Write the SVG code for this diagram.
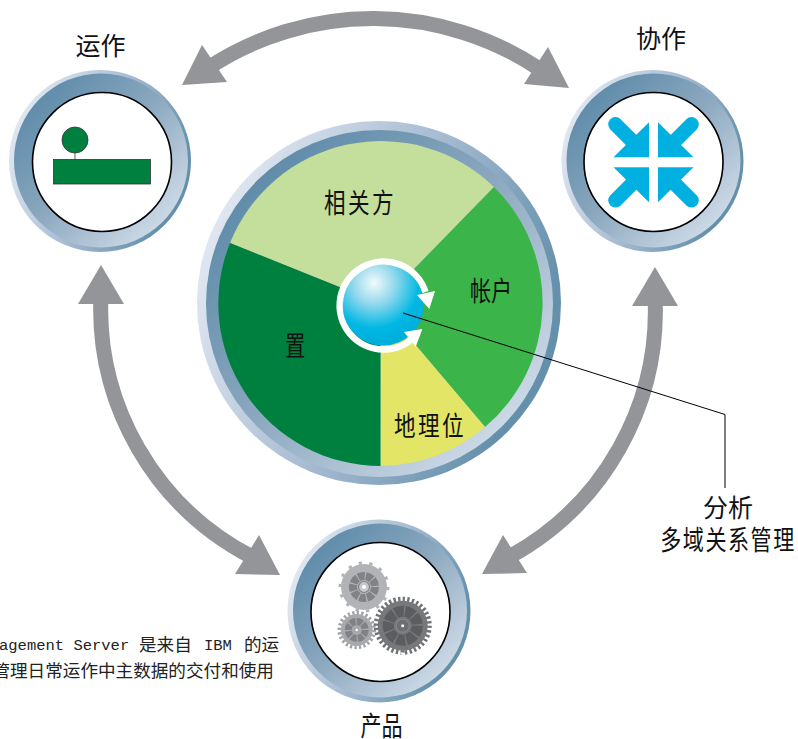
<svg xmlns="http://www.w3.org/2000/svg" xmlns:xlink="http://www.w3.org/1999/xlink" width="798" height="739" viewBox="0 0 798 739">
<style>
.lbl{font-family:"Noto Sans CJK SC","Liberation Sans",sans-serif;font-size:25px;fill:#111;text-anchor:middle}
.nar{font-size:27px}
.ln{font-family:"Noto Sans CJK SC","Liberation Mono",monospace;font-size:17.6px;fill:#222}
.mono{font-family:"Liberation Mono",monospace;font-size:15.5px;fill:#222}
.band{fill:none;stroke:#939598;stroke-width:15}
.head{fill:#939598}
.hole{fill:#fff;stroke:#000;stroke-width:1.6}
.green{fill:#00803e;stroke:#333;stroke-width:.8}
.teeth{fill:none}
</style>
<defs>
<linearGradient id="rimA" x1="0" y1="0.3" x2="1" y2="0.7"><stop offset="0" stop-color="#e4eaf3"/><stop offset="0.5" stop-color="#a5bad1"/><stop offset="0.9" stop-color="#6590ab"/><stop offset="1" stop-color="#6590ab"/></linearGradient>
<linearGradient id="rimB" x1="0.15" y1="0.15" x2="0.88" y2="0.88"><stop offset="0" stop-color="#618dab"/><stop offset="0.45" stop-color="#8aa7be"/><stop offset="1" stop-color="#d0dce9"/></linearGradient>
<radialGradient id="ball" gradientUnits="userSpaceOnUse" cx="374" cy="283" r="60"><stop offset="0" stop-color="#f2fafd"/><stop offset="0.35" stop-color="#93d8ec"/><stop offset="0.75" stop-color="#00b8e4"/><stop offset="1" stop-color="#00aedb"/></radialGradient>
<g id="squeeze"><path d="M-4.500-40V-5H-40Z" fill="#00b0e0"/><path d="M-38-38L-16-16" stroke="#00b0e0" stroke-width="14.500" stroke-linecap="round"/></g>
</defs>

<g id="connectors">
<g id="link-top"><path class="band" d="M208 68A300 300 0 0 1 541 70"/><path class="head" d="M182 85L202 45L227 82Z"/><path class="head" d="M569 88L548 47L524 84Z"/></g>
<g id="link-left"><path class="band" d="M101 295A280 280 0 0 0 252 557"/><path class="head" d="M101 265L78 304L124 304Z"/><path class="head" d="M280 575L235 574L259 535Z"/></g>
<g id="link-right"><path class="band" d="M655 297A280 280 0 0 1 509 557"/><path class="head" d="M655 267L632 306L678 306Z"/><path class="head" d="M482 574L527 573L503 535Z"/></g>
</g>

<g id="node-ops">
<circle cx="100" cy="161" r="91" fill="url(#rimA)"/><circle cx="101" cy="160.500" r="87" fill="url(#rimB)"/><circle class="hole" cx="102" cy="162" r="69.500"/>
<line x1="75" y1="152" x2="75" y2="160" stroke="#777" stroke-width="1.200"/><circle class="green" cx="75" cy="140" r="13"/><rect class="green" x="53.500" y="159.500" width="97" height="24.500"/>
<text class="lbl" x="100.500" y="54.500">运作</text>
</g>

<g id="node-collab">
<circle cx="652.500" cy="161" r="91" fill="url(#rimA)"/><circle cx="653.500" cy="160.500" r="87" fill="url(#rimB)"/><circle class="hole" cx="653.500" cy="162" r="69.500"/>
<g transform="translate(653.500 162.300)"><use xlink:href="#squeeze"/><use xlink:href="#squeeze" transform="scale(-1 1)"/><use xlink:href="#squeeze" transform="scale(1 -1)"/><use xlink:href="#squeeze" transform="scale(-1 -1)"/></g>
<text class="lbl" x="661" y="47.500">协作</text>
</g>

<g id="node-product">
<circle cx="379" cy="611" r="91.500" fill="url(#rimA)"/><circle cx="380" cy="610.500" r="87" fill="url(#rimB)"/><circle class="hole" cx="380.500" cy="612" r="69.500"/>
<g id="gear-a">
<circle cx="364" cy="587" r="23" fill="#b1b3b6"/>
<circle cx="364" cy="587" r="24" class="teeth" stroke="#b1b3b6" stroke-width="3" pathLength="14" stroke-dasharray=".3 .7"/>
<circle cx="364" cy="587" r="11" fill="none" stroke="#808285" stroke-width="8" pathLength="9" stroke-dasharray=".85 .15"/>
<circle cx="364" cy="587" r="5.500" fill="#c7c8ca" stroke="#808285" stroke-width="1.200"/><circle cx="364" cy="587" r="2" fill="#fff"/>
</g>
<g id="gear-b">
<circle cx="356.700" cy="630" r="16" fill="#a7a9ac"/>
<circle cx="356.700" cy="630" r="17.500" class="teeth" stroke="#a0a2a5" stroke-width="3.500" pathLength="24" stroke-dasharray=".5 .5"/>
<circle cx="356.700" cy="630" r="8.500" fill="none" stroke="#808285" stroke-width="7" pathLength="8" stroke-dasharray=".82 .18"/>
<circle cx="356.700" cy="630" r="1.200" fill="#fff"/>
</g>
<g id="gear-c">
<circle cx="402.700" cy="625.700" r="25" fill="#77787b"/>
<circle cx="402.700" cy="625.700" r="26.800" class="teeth" stroke="#707174" stroke-width="4.500" pathLength="36" stroke-dasharray=".5 .5"/>
<circle cx="402.700" cy="625.700" r="14.500" fill="none" stroke="#5c5d5f" stroke-width="11" pathLength="9" stroke-dasharray=".86 .14"/>
<circle cx="402.700" cy="625.700" r="6.500" fill="#6d6e71" stroke="#8a8c8e" stroke-width="1"/><circle cx="402.700" cy="625.700" r="1.500" fill="#fff"/>
</g>
<text class="lbl nar" transform="translate(381.500 735.500) scale(.78 1)">产品</text>
</g>

<g id="node-core">
<circle cx="379" cy="303" r="182" fill="url(#rimA)"/><circle cx="379.500" cy="303.500" r="173.500" fill="url(#rimB)"/>
<path d="M380.500 303.500L230 243A162.500 162.500 0 0 1 494 187Z" fill="#c4de9b"/>
<path d="M380.500 303.500L494 187A162.500 162.500 0 0 1 485 427Z" fill="#3bb54a"/>
<path d="M380.500 303.500L485 427A162.500 162.500 0 0 1 380.500 466Z" fill="#e2e566"/>
<path d="M380.500 303.500L380.500 466A162.500 162.500 0 0 1 230 243Z" fill="#00803e"/>
<text class="lbl nar" transform="translate(360 213) scale(.8 1)" letter-spacing="3">相关方</text>
<text class="lbl nar" transform="translate(491 301) scale(.78 1)">帐户</text>
<text class="lbl nar" transform="translate(430 435.500) scale(.8 1)" letter-spacing="3">地理位</text>
<text class="lbl nar" transform="translate(295 356) scale(.75 1)">置</text>
<circle cx="383" cy="304.500" r="41" fill="url(#ball)"/>
<path d="M418 333A44 44 0 1 1 425.500 292" fill="none" stroke="#fff" stroke-width="6.500"/>
<path d="M435 291L417 295L429.300 309Z" fill="#fff"/><path d="M422.300 329L404 332L415.700 346.700Z" fill="#fff"/>
</g>

<g id="callout">
<path d="M403 313L725 414.500V488" fill="none" stroke="#000" stroke-width="1"/>
<text class="lbl" x="728" y="516.500">分析</text>
<text class="lbl nar" transform="translate(728 550) scale(.78 1)" letter-spacing="2">多域关系管理</text>
</g>

<g id="caption">
<text class="mono" x="-1" y="650">agement Server</text>
<text class="ln" x="139" y="651">是来自</text><text class="mono" x="204" y="650">IBM</text><text class="ln" x="244" y="651">的运</text>
<text class="ln" x="-7.600" y="677">管理日常运作中主数据的交付和使用</text>
</g>
</svg>
